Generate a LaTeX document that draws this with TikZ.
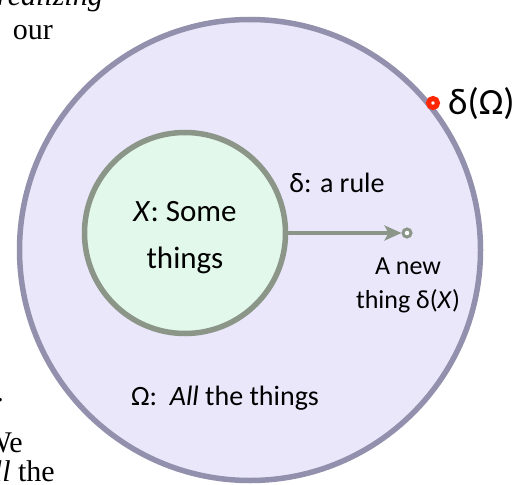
\documentclass[tikz,border=0pt]{standalone}
\usepackage{fontspec}
\setmainfont{Carlito}
\newfontfamily\pagefont{Liberation Serif}
\usetikzlibrary{arrows.meta}
\definecolor{allfill}{RGB}{234,231,250}
\definecolor{allrim}{RGB}{146,144,172}
\definecolor{somefill}{RGB}{225,248,234}
\definecolor{somerim}{RGB}{139,150,137}
\definecolor{dotred}{RGB}{255,38,0}

\begin{document}
\begin{tikzpicture}[x=1pt,y=-1pt,
  setcirc/.style={circle,draw,line width=5.5pt,inner sep=0pt},
  lbl/.style={font=\fontsize{28}{34}\selectfont,align=center,inner sep=0pt},
  pagetxt/.style={font=\pagefont\fontsize{30}{36}\selectfont,anchor=base east,inner sep=0pt}]
\useasboundingbox (0,0) rectangle (518,484);
\clip (0,0) rectangle (518,484);
% bits of the page text round the figure
\node[pagetxt] (txta) at (103,6) {\textit{realizing}};
\node[pagetxt] (txtb) at (53,40) {our};
\node[pagetxt] (txtc) at (4,401) {.};
\node[pagetxt] (txtd) at (23,452) {We};
\node[pagetxt] (txte) at (55,481) {\textit{all} the};
% the two sets
\node[setcirc,draw=allrim,fill=allfill,minimum size=461pt] (omega) at (250,250) {};
\node[setcirc,draw=somerim,fill=somefill,minimum size=201pt] (X) at (185,233) {};
\node[lbl,font=\fontsize{31}{47}\selectfont] (Xtxt) at (185,238) {\textit{X}: Some\\things};
\node[lbl] (alltxt) at (225,398) {Ω:\ \ \textit{All} the things};
% the rule
\node[circle,draw=somerim,fill=white,line width=3pt,inner sep=0pt,minimum size=8pt] (newthing) at (407,233) {};
\draw[somerim,line width=4pt,-{Stealth[length=17pt,width=15pt,inset=4pt]}] (X.east) -- (newthing.west);
\node[lbl] (rule) at (337,183) {δ: a rule};
\node[lbl,font=\fontsize{26}{34}\selectfont] (newtxt) at (408,285) {A new\\thing δ(\textit{X})};
% the rule applied to everything
\node[circle,draw=dotred,fill=white,line width=5pt,inner sep=0pt,minimum size=9pt] (reddot) at (433,103) {};
\node[lbl,font=\fontsize{37}{42}\selectfont,anchor=west] (omegatxt) at (448,104) {δ(Ω)};
\end{tikzpicture}
\end{document}
